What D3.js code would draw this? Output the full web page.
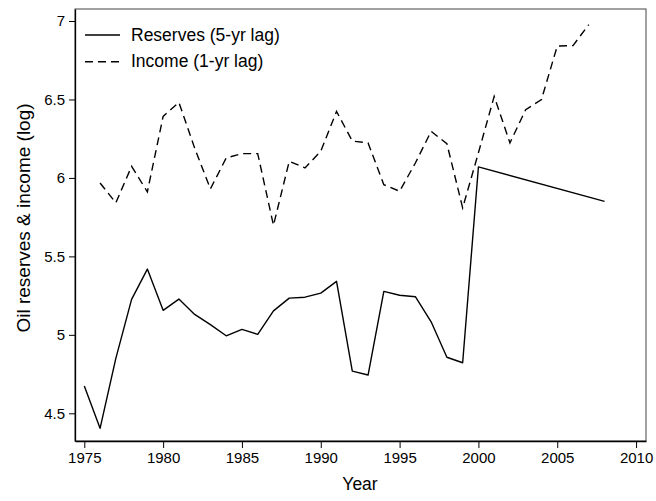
<!DOCTYPE html>
<html><head><meta charset="utf-8">
<script src="https://cdn.jsdelivr.net/npm/d3@7"></script>
<style>body{margin:0;background:#fff}svg{display:block}text{font-family:"Liberation Sans",Arial,sans-serif;fill:#000}</style>
</head><body>
<svg id="c" width="656" height="501"></svg>
<script>
const reserveYears = [1975,1976,1977,1978,1979,1980,1981,1982,1983,1984,1985,1986,1987,1988,1989,1990,1991,1992,1993,1994,1995,1996,1997,1998,1999,2000,2008];
const reserves = [4.674,4.404,4.85,5.226,5.419,5.156,5.228,5.13,5.065,4.994,5.035,5.003,5.153,5.234,5.24,5.266,5.341,4.769,4.744,5.277,5.252,5.243,5.083,4.857,4.822,6.07,5.851];
const incomeYears = [1976,1977,1978,1979,1980,1981,1982,1983,1984,1985,1986,1987,1988,1989,1990,1991,1992,1993,1994,1995,1996,1997,1998,1999,2000,2001,2002,2003,2004,2005,2006,2007];
const income = [5.968,5.841,6.074,5.911,6.392,6.482,6.19,5.93,6.127,6.155,6.155,5.698,6.106,6.064,6.17,6.424,6.235,6.223,5.957,5.915,6.095,6.297,6.218,5.809,6.16,6.52,6.223,6.435,6.5,6.84,6.843,6.977];
const xTicks = [1975,1980,1985,1990,1995,2000,2005,2010];
const yTicks = [4.5,5,5.5,6,6.5,7];
const legendLabels = ["Reserves (5-yr lag)","Income (1-yr lag)"];

const L=75,R=646,T=9,B=441;
const svg=d3.select("#c");
const x=d3.scaleLinear().domain([1974.41,2010.63]).range([L,R]);
const y=d3.scaleLinear().domain([4.3235,7.0765]).range([B,T]);

// frame
svg.append("rect").attr("x",L).attr("y",T).attr("width",R-L).attr("height",B-T)
  .attr("fill","none").attr("stroke","#444").attr("stroke-width",1);

const xa=svg.append("g").attr("transform",`translate(0,${B})`)
  .call(d3.axisBottom(x).tickValues(xTicks).tickFormat(d3.format("d")).tickSize(7).tickPadding(4).tickSizeOuter(0));
const ya=svg.append("g").attr("transform",`translate(${L},0)`)
  .call(d3.axisLeft(y).tickValues(yTicks).tickFormat(d=>String(d)).tickSize(6).tickPadding(4).tickSizeOuter(0));
[xa,ya].forEach(a=>{
  a.selectAll("path").attr("stroke","#000").attr("stroke-width",1.3);
  a.selectAll("line").attr("stroke","#000").attr("stroke-width",1);
  a.selectAll("text").attr("font-size",15).attr("font-family",null);
});

svg.append("text").attr("x",360).attr("y",490).attr("text-anchor","middle").attr("font-size",17.5).text("Year");
svg.append("text").attr("transform","translate(29.5,218) rotate(-90)").attr("text-anchor","middle").attr("font-size",19).text("Oil reserves & income (log)");

const line=d3.line().x(d=>x(d[0])).y(d=>y(d[1]));
svg.append("path").datum(reserveYears.map((yr,i)=>[yr,reserves[i]]))
  .attr("d",line).attr("fill","none").attr("stroke","#000").attr("stroke-width",1.4).attr("stroke-linejoin","round");
svg.append("path").datum(incomeYears.map((yr,i)=>[yr,income[i]]))
  .attr("d",line).attr("fill","none").attr("stroke","#000").attr("stroke-width",1.4).attr("stroke-dasharray","8,5");

// legend
const lg=svg.append("g");
const dashes=[null,"8,5"];
legendLabels.forEach((t,i)=>{
  const ly=35+i*26.7;
  lg.append("line").attr("x1",85).attr("x2",120).attr("y1",ly).attr("y2",ly)
    .attr("stroke","#000").attr("stroke-width",1.4).attr("stroke-dasharray",dashes[i]);
  lg.append("text").attr("x",131).attr("y",ly+5.5).attr("font-size",17.5).text(t);
});
</script>
</body></html>
